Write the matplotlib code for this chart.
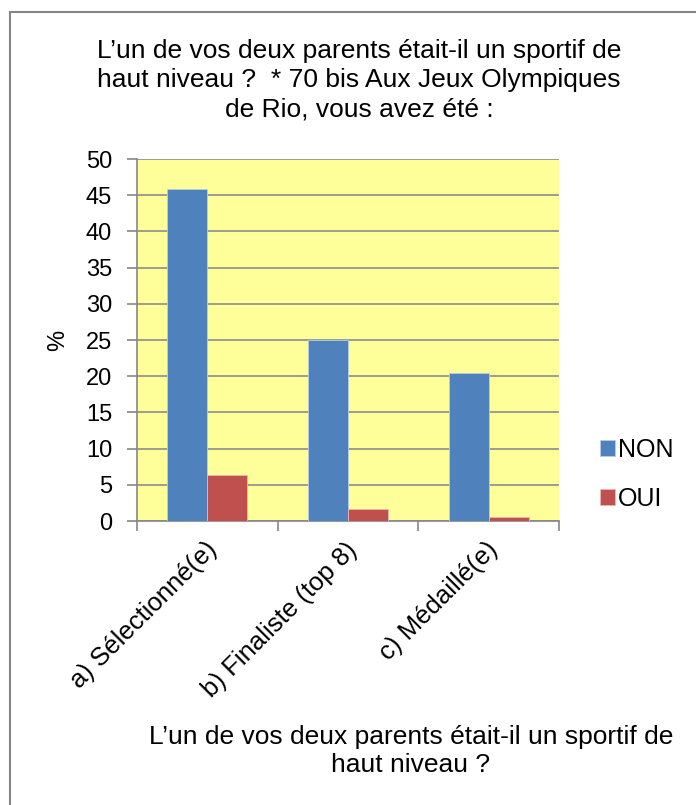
import matplotlib
matplotlib.use("Agg")
import matplotlib.pyplot as plt
import numpy as np
from matplotlib.patches import Rectangle

plt.rcParams['font.family'] = ['Liberation Sans', 'DejaVu Sans']

# Data
categories = ["a) Sélectionné(e)", "b) Finaliste (top 8)", "c) Médaillé(e)"]
non_values = [45.9, 25.0, 20.4]
oui_values = [6.4, 1.6, 0.6]
series_names = ["NON", "OUI"]
yticks = [0, 5, 10, 15, 20, 25, 30, 35, 40, 45, 50]

W, H = 696, 805
fig = plt.figure(figsize=(W / 100, H / 100), dpi=100)
fig.patch.set_facecolor("white")

# outer chart frame (cut off on the right and bottom)
fig.patches.append(Rectangle((10 / W, -0.01), 1.0, (H - 12) / H + 0.01, transform=fig.transFigure,
                             facecolor="none", edgecolor="#868686", linewidth=1.5))

ax = fig.add_axes([137 / W, (H - 521) / H, 422 / W, 362 / H])
ax.set_facecolor("#FFFF99")

x = np.arange(len(categories))
w = 0.285
ax.bar(x - w / 2, non_values, w, color="#4F81BD", edgecolor="#B9CDE5", linewidth=0.6, label=series_names[0], zorder=3)
ax.bar(x + w / 2, oui_values, w, color="#C0504D", edgecolor="#E6B9B8", linewidth=0.6, label=series_names[1], zorder=3)

ax.set_xlim(-0.5, 2.5)
ax.set_ylim(0, 50)
ax.set_yticks(yticks)
ax.set_yticklabels([str(v) for v in yticks], fontsize=17)
ax.yaxis.grid(True, color="#8C8C8C", linewidth=1.2, zorder=1)
ax.set_axisbelow(True)

ax.set_xticks([-0.5, 0.5, 1.5, 2.5])
ax.set_xticklabels([])
ax.tick_params(axis="both", direction="out", length=7, color="#868686", width=1.2)
ax.tick_params(axis="y", pad=11)
for s in ["top", "right"]:
    ax.spines[s].set_visible(False)
ax.spines["left"].set_color("#868686")
ax.spines["bottom"].set_color("#868686")
ax.spines["left"].set_linewidth(1.2)
ax.spines["bottom"].set_linewidth(1.2)

# rotated category labels
for xi, lab in zip(x, categories):
    ax.annotate(lab, xy=(xi, 0), xycoords="data", xytext=(-2, -12), textcoords="offset points",
                rotation=45, ha="right", va="top", rotation_mode="anchor", fontsize=18.5)

ax.set_ylabel("%", fontsize=17, labelpad=12)

fig.text(359 / W, 1 - 80 / H,
         "L\u2019un de vos deux parents était-il un sportif de\nhaut niveau ?  * 70 bis Aux Jeux Olympiques\nde Rio, vous avez été :",
         ha="center", va="center", fontsize=19, linespacing=1.27)

fig.text(411 / W, 1 - 751 / H,
         "L\u2019un de vos deux parents était-il un sportif de\nhaut niveau ?",
         ha="center", va="center", fontsize=19, linespacing=1.25)

leg = fig.legend(loc="center left", bbox_to_anchor=(577 / W, 1 - 474 / H), frameon=False,
                 fontsize=18, handlelength=0.6, handleheight=0.6, handletextpad=0.15, labelspacing=1.0)

fig.savefig("out.png", dpi=100)
